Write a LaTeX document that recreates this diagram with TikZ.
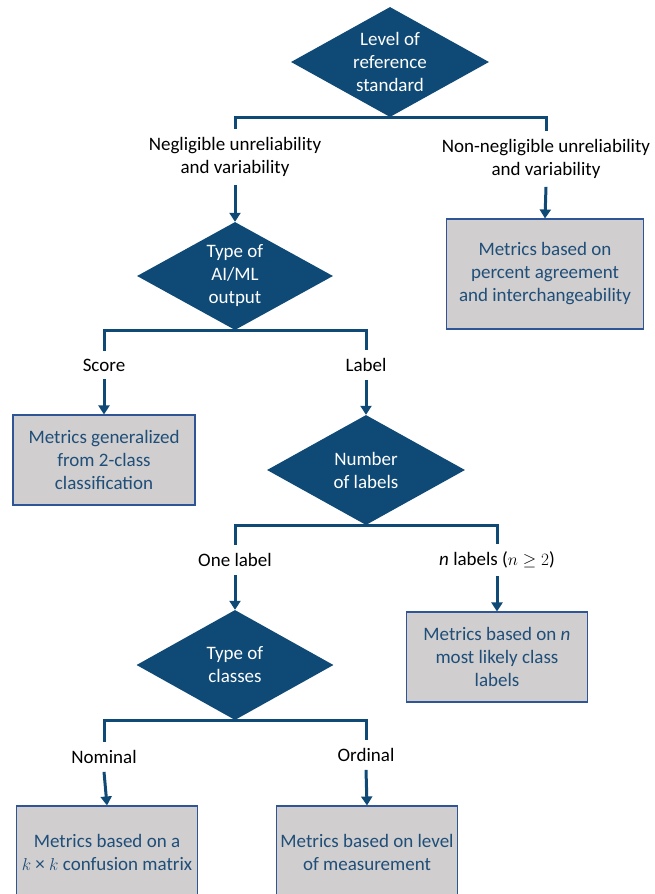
\documentclass[tikz,border=0pt]{standalone}
\usepackage{fontspec}
\setmainfont{Carlito}
\usepackage{tikz}
\usetikzlibrary{arrows.meta,shapes.geometric}
\definecolor{dkblue}{RGB}{15,74,118}
\definecolor{boxgray}{RGB}{208,206,206}
\definecolor{boxline}{RGB}{47,85,151}
\definecolor{boxtext}{RGB}{31,78,121}

\begin{document}
\begin{tikzpicture}[x=1pt,y=-1pt,
                    font=\fontsize{19}{23}\selectfont,
                    decision/.style={diamond,aspect=1.8,inner sep=0pt,fill=dkblue,
                                     text=white,align=center},
                    metric/.style={draw=boxline,line width=1.1pt,fill=boxgray,text=boxtext,
                                   align=center,minimum width=181pt,minimum height=90pt},
                    branch/.style={align=center,inner xsep=0pt,inner ysep=8pt},
                    link/.style={draw=dkblue,line width=3pt},
                    arr/.style={link,-{Triangle[length=9pt,width=11pt]}}]

  \useasboundingbox (0,0) rectangle (654,894);

  \node[decision,minimum width=198pt,minimum height=110pt] (ref)  at (390,62)  {Level of\\reference\\standard};
  \node[branch] (negl)   at (235,157) {Negligible unreliability\\and variability};
  \node[branch] (nonneg) at (546,159) {Non-negligible unreliability\\and variability};

  \node[decision,minimum width=196pt,minimum height=108pt] (aiml) at (235,276) {Type of\\AI/ML\\output};
  \node[metric,minimum width=197pt,minimum height=110pt]   (pct)  at (545,274) {Metrics based on\\percent agreement\\and interchangeability};

  \node[branch] (score) at (104,365) {Score};
  \node[branch] (lab)   at (366,365) {Label};

  \node[metric,minimum width=182pt] (gen)  at (104,460) {Metrics generalized\\from 2-class\\classification};
  \node[decision,minimum width=198pt,minimum height=110pt] (nlab) at (366,470) {Number\\of labels};

  \node[branch] (one)  at (235,560) {One label};
  \node[branch] (nlbl) at (497,560) {\textit{n} labels ($n \geq 2$)};

  \node[decision,minimum width=197pt,minimum height=110pt] (cls) at (235,665) {Type of\\classes};
  \node[metric] (nbox) at (497,657) {Metrics based on \textit{n}\\most likely class\\labels};

  \node[branch] (nom) at (104,757) {Nominal};
  \node[branch] (ord) at (366,755) {Ordinal};

  \node[metric,minimum height=92pt] (conf) at (107,852) {Metrics based on a\\$k$ × $k$ confusion matrix};
  \node[metric,minimum height=92pt] (meas) at (367,852) {Metrics based on level\\of measurement};

  % brackets under the decisions
  \draw[link] (negl.north) |- (ref.south) -| (nonneg.north);
  \draw[link] (score.north) |- (aiml.south) -| (lab.north);
  \draw[link] (one.north) |- (nlab.south) -| (nlbl.north);
  \draw[link] (nom.north) |- (cls.south) -| (ord.north);

  % arrows down
  \draw[arr] (negl.south)   -- (aiml.north);
  \draw[arr] (nonneg.south) -- (pct.north);
  \draw[arr] (score.south)  -- (gen.north);
  \draw[arr] (lab.south)    -- (nlab.north);
  \draw[arr] (one.south)    -- (cls.north);
  \draw[arr] (nlbl.south)   -- (nbox.north);
  \draw[arr] (nom.south)    -- (conf.north);
  \draw[arr] (ord.south)    -- (meas.north);
\end{tikzpicture}
\end{document}
